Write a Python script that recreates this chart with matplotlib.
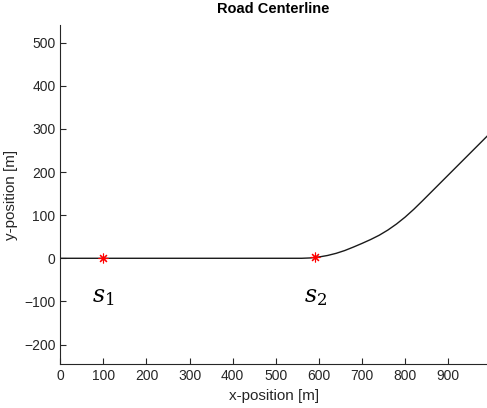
import numpy as np
import matplotlib.pyplot as plt

# road centerline points
road_x = [0, 560, 580, 600, 620, 640, 660, 680, 700, 720, 740, 760, 780, 800, 820, 840, 990]
road_y = [0, 0, 0.8, 3, 6.5, 11.5, 18, 26, 34.5, 43.5, 53.5, 65.5, 79.5, 95.5, 113.5, 133, 283]

# marked stations
s_x = [100, 591]
s_y = [0, 3]
s_labels = [r'$s_1$', r'$s_2$']
label_y = -90

plt.rcParams['font.family'] = ['Liberation Sans', 'DejaVu Sans']
plt.rcParams['mathtext.fontset'] = 'dejavuserif'
gray = '#262626'

fig = plt.figure(figsize=(4.87, 4.08), dpi=100)
ax = fig.add_axes([0.1238, 0.107, 0.8762, 0.8316])

ax.plot(road_x, road_y, color='#1a1a1a', lw=1.0)
ax.plot(s_x, s_y, linestyle='none', marker=(8, 2, 0), color='red', ms=7, markeredgewidth=0.8)
for xx, lab in zip(s_x, s_labels):
    ax.text(xx, label_y, lab, ha='center', va='center', fontsize=17, color='black')

ax.set_xlim(0, 990)
ax.set_ylim(-246, 541)
ax.set_xticks(np.arange(0, 1000, 100))
ax.set_yticks(np.arange(-200, 600, 100))
ax.spines['top'].set_visible(False)
ax.spines['right'].set_visible(False)
for s in ['left', 'bottom']:
    ax.spines[s].set_color(gray)
    ax.spines[s].set_linewidth(0.8)
ax.tick_params(direction='in', length=4, width=0.8, colors=gray, labelsize=10)

ax.set_title('Road Centerline', fontsize=10.5, fontweight='bold', color='black', pad=9)
ax.set_xlabel('x-position [m]', fontsize=11, color=gray)
ax.set_ylabel('y-position [m]', fontsize=11, color=gray)

fig.savefig('out.png', dpi=100)
